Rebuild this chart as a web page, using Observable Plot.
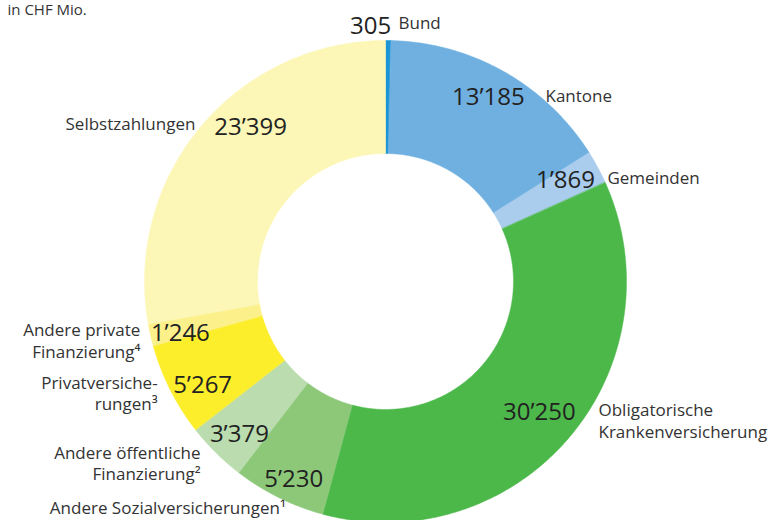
<!DOCTYPE html>
<html><head><meta charset="utf-8">
<script src="https://cdn.jsdelivr.net/npm/d3@7"></script>
<script src="https://cdn.jsdelivr.net/npm/@observablehq/plot@0.6"></script>
<style>body{margin:0;background:#fff} svg{display:block}</style>
</head><body><div id="chart"></div>
<script>
// ---- data ----
const categories = ["Bund","Kantone","Gemeinden","Obligatorische Krankenversicherung","Andere Sozialversicherungen","Andere öffentliche Finanzierung","Privatversicherungen","Andere private Finanzierung","Selbstzahlungen"];
const categoryLabels = ["Bund","Kantone","Gemeinden","Obligatorische\nKrankenversicherung","Andere Sozialversicherungen¹","Andere öffentliche\nFinanzierung²","Privatversiche-\nrungen³","Andere private\nFinanzierung⁴","Selbstzahlungen"];
const values = [305,13185,1869,30250,5230,3379,5267,1246,23399];
const valueLabels = ["305","13’185","1’869","30’250","5’230","3’379","5’267","1’246","23’399"];
const colors = ["#1b95d3","#6fb0e0","#aacdee","#4cb84a","#8cc878","#badcae","#fcee2b","#fbf08a","#fdf7b7"];
const unitText = "in CHF Mio.";

// ---- layout (polar, in units of outer radius) ----
const innerRadius = 0.531;
// number label: angle nudge from slice middle (deg), radius
const numberLayout = [[-4,1.06],[-0.3,0.875],[-1,0.856],[0,0.839],[-1.5,0.906],[-1.1,0.878],[-2.9,0.873],[-1.4,0.878],[8.9,0.85]];
// category label: absolute angle (deg), radius, anchor
const catLayout = [[2.87,1.076,"start"],[40.55,1.021,"start"],[64.9,1.017,"start"],[123.1,1.055,"start"],[203.8,1.025,"end"],[225.6,1.074,"end"],[244.0,1.052,"end"],[256.5,1.046,"end"],[309.9,1.028,"end"]];

const rad = d => d * Math.PI / 180;
const deg = r => r * 180 / Math.PI;
const arcs = d3.pie().sort(null).startAngle(0).endAngle(2 * Math.PI)(values);

const polys = [];
arcs.forEach((a, i) => {
  const n = Math.max(2, Math.ceil(deg(a.endAngle - a.startAngle) / 0.5));
  for (let k = 0; k <= n; k++) {
    const t = a.startAngle + (a.endAngle - a.startAngle) * k / n;
    polys.push({cat: categories[i], x: Math.sin(t), y: Math.cos(t)});
  }
  for (let k = n; k >= 0; k--) {
    const t = a.startAngle + (a.endAngle - a.startAngle) * k / n;
    polys.push({cat: categories[i], x: innerRadius * Math.sin(t), y: innerRadius * Math.cos(t)});
  }
});

const numbers = arcs.map((a, i) => {
  const t = (a.startAngle + a.endAngle) / 2 + rad(numberLayout[i][0]);
  const r = numberLayout[i][1];
  return {text: valueLabels[i], x: r * Math.sin(t), y: r * Math.cos(t)};
});
const cats = categoryLabels.map((c, i) => {
  const t = rad(catLayout[i][0]), r = catLayout[i][1];
  return {text: c, x: r * Math.sin(t), y: r * Math.cos(t), anchor: catLayout[i][2]};
});

const R = 241, cx = 385, cy = 281, W = 770, H = 520;
const chart = Plot.plot({
  width: W, height: H, margin: 0,
  x: {domain: [-cx / R, (W - cx) / R], axis: null},
  y: {domain: [-(H - cy) / R, cy / R], axis: null},
  color: {domain: categories, range: colors},
  style: {fontFamily: "'Open Sans', sans-serif", background: "#fff"},
  marks: [
    Plot.line(polys, {x: "x", y: "y", z: "cat", fill: "cat", stroke: "cat", strokeWidth: 0.5, curve: "linear-closed"}),
    Plot.text(numbers, {x: "x", y: "y", text: "text", fontSize: 24, fill: "#222", textAnchor: "middle"}),
    Plot.text(cats.filter(d => d.anchor === "start"), {x: "x", y: "y", text: "text", fontSize: 17, fill: "#333", textAnchor: "start", lineHeight: 1.28}),
    Plot.text(cats.filter(d => d.anchor === "end"), {x: "x", y: "y", text: "text", fontSize: 17, fill: "#333", textAnchor: "end", lineHeight: 1.28}),
    Plot.text([unitText], {frameAnchor: "top-left", text: d => d, dx: 7, dy: 14, lineAnchor: "bottom", fontSize: 15, fill: "#333", textAnchor: "start"})
  ]
});
document.getElementById("chart").append(chart);
</script>
</body></html>
